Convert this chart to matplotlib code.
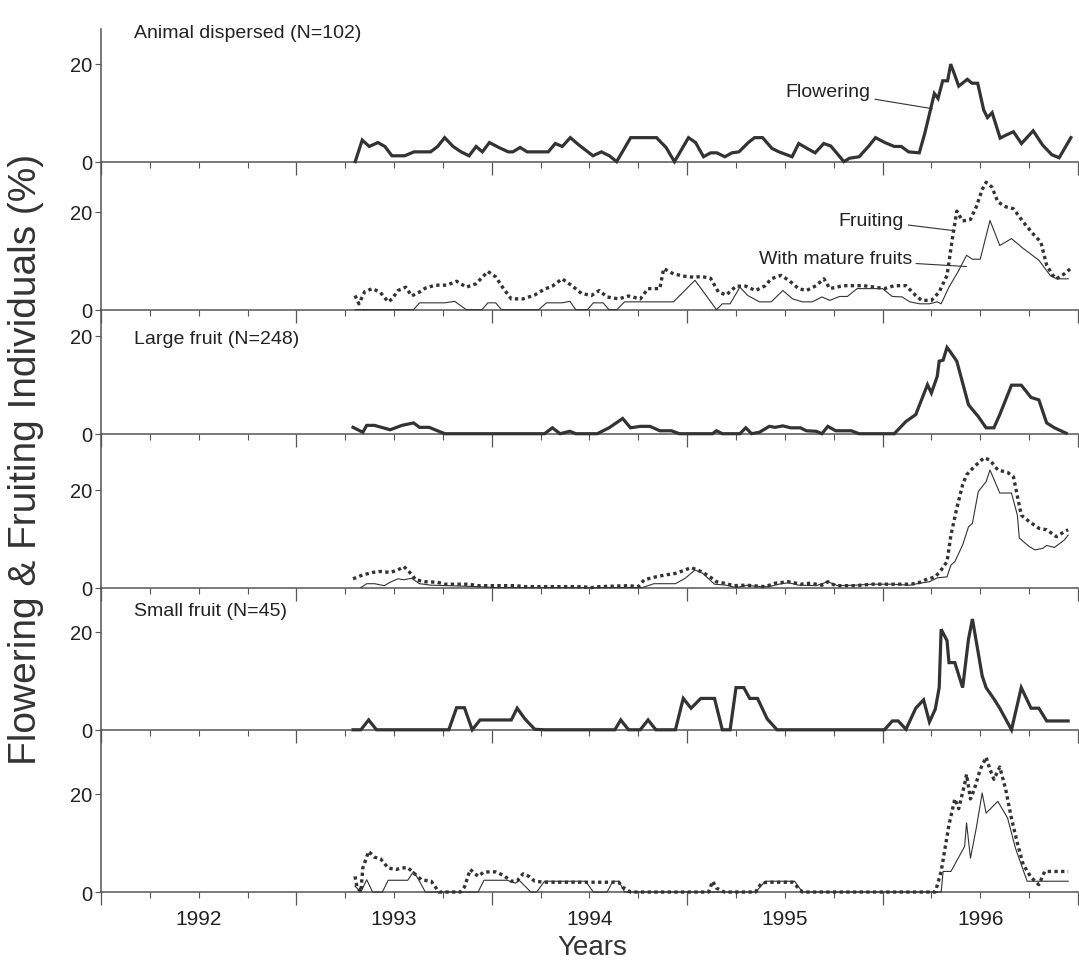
import numpy as np
import matplotlib.pyplot as plt
from matplotlib.ticker import FixedLocator, FuncFormatter

plt.rcParams['font.family'] = ['Liberation Sans', 'DejaVu Sans']

INK = '#333333'

# ---- Animal dispersed (N=102) ----
animal_flower_t = [1992.801, 1992.837, 1992.873, 1992.917, 1992.953, 1992.989, 1993.054, 1993.102,
                   1993.187, 1993.223, 1993.259, 1993.302, 1993.343, 1993.384, 1993.420, 1993.452,
                   1993.488, 1993.536, 1993.584, 1993.608, 1993.645, 1993.681, 1993.789, 1993.825,
                   1993.861, 1993.902, 1993.946, 1994.018, 1994.061, 1994.102, 1994.139, 1994.211,
                   1994.343, 1994.392, 1994.435, 1994.507, 1994.543, 1994.584, 1994.620, 1994.652,
                   1994.693, 1994.729, 1994.765, 1994.813, 1994.845, 1994.886, 1994.934, 1994.970,
                   1995.037, 1995.071, 1995.114, 1995.155, 1995.199, 1995.235, 1995.271, 1995.302,
                   1995.331, 1995.380, 1995.428, 1995.464, 1995.512, 1995.560, 1995.596, 1995.633,
                   1995.688, 1995.717, 1995.746, 1995.765, 1995.784, 1995.808, 1995.833, 1995.849,
                   1995.873, 1995.890, 1995.934, 1995.958, 1995.987, 1996.018, 1996.037, 1996.061,
                   1996.102, 1996.131, 1996.170, 1996.211, 1996.271, 1996.319, 1996.367, 1996.404,
                   1996.464]
animal_flower = [0.0, 4.4, 3.1, 3.9, 3.1, 1.2, 1.2, 2.0,
                 2.0, 3.1, 4.9, 3.1, 2.0, 1.2, 3.1, 2.0,
                 3.9, 2.9, 2.0, 2.0, 2.9, 2.0, 2.0, 3.7,
                 3.1, 4.9, 3.4, 1.2, 2.0, 1.2, 0.0, 4.9,
                 4.9, 2.9, 0.0, 4.9, 3.9, 1.0, 1.8, 1.8,
                 1.0, 1.8, 2.0, 3.9, 4.9, 4.9, 2.7, 2.0,
                 1.0, 3.7, 2.7, 1.8, 3.7, 3.2, 1.5, 0.0,
                 0.7, 1.0, 3.1, 4.9, 3.9, 3.1, 3.1, 2.0,
                 1.8, 5.9, 10.7, 13.9, 12.9, 16.5, 16.5, 19.9,
                 17.3, 15.4, 16.8, 16.0, 16.0, 10.5, 9.0, 10.0,
                 4.8, 5.4, 6.1, 3.7, 6.3, 3.4, 1.4, 0.8,
                 4.9]

animal_fruit_t = [1992.80, 1992.82, 1992.85, 1992.89, 1992.93, 1992.97, 1992.99, 1993.02, 1993.06,
                  1993.09, 1993.13, 1993.16, 1993.21, 1993.27, 1993.32, 1993.37, 1993.42, 1993.48,
                  1993.52, 1993.56, 1993.60, 1993.66, 1993.72, 1993.77, 1993.81, 1993.86, 1993.91,
                  1993.96, 1994.01, 1994.05, 1994.09, 1994.15, 1994.20, 1994.26, 1994.30, 1994.36,
                  1994.38, 1994.43, 1994.49, 1994.54, 1994.57, 1994.62, 1994.66, 1994.70, 1994.75,
                  1994.80, 1994.85, 1994.90, 1994.93, 1994.98, 1995.02, 1995.07, 1995.11, 1995.16,
                  1995.20, 1995.23, 1995.30, 1995.34, 1995.40, 1995.46, 1995.51, 1995.56, 1995.62,
                  1995.67, 1995.70, 1995.75, 1995.79, 1995.83, 1995.86, 1995.88, 1995.91, 1995.95,
                  1995.98, 1996.01, 1996.03, 1996.06, 1996.09, 1996.13, 1996.17, 1996.22, 1996.27,
                  1996.31, 1996.34, 1996.37, 1996.39, 1996.43, 1996.46]
animal_fruit = [2.9, 1.2, 3.7, 4.3, 3.5, 1.6, 2.2, 3.9, 4.6,
                2.8, 3.6, 4.4, 5.0, 5.0, 5.8, 4.6, 5.3, 7.8,
                6.7, 4.3, 2.2, 2.2, 3.0, 4.2, 4.8, 6.3, 4.9,
                3.3, 2.9, 3.9, 2.6, 2.2, 2.8, 2.2, 4.3, 4.3,
                8.4, 7.3, 6.8, 6.6, 6.8, 6.4, 3.6, 3.0, 4.8,
                4.8, 3.9, 4.9, 6.3, 7.0, 6.0, 4.3, 3.9, 4.9,
                6.3, 4.3, 4.9, 4.9, 4.9, 4.6, 4.3, 4.9, 4.9,
                2.9, 1.9, 1.9, 3.6, 7.0, 15.2, 20.1, 18.1, 18.4,
                21.0, 24.5, 26.0, 25.0, 22.0, 21.0, 20.6, 17.9, 15.5,
                13.8, 9.1, 7.1, 6.3, 7.3, 8.3]

animal_mature_t = [1992.80, 1993.10, 1993.13, 1993.26, 1993.31, 1993.37, 1993.45, 1993.48, 1993.52,
                   1993.55, 1993.74, 1993.78, 1993.86, 1993.90, 1993.93, 1993.99, 1994.02, 1994.07,
                   1994.10, 1994.14, 1994.18, 1994.43, 1994.54, 1994.61, 1994.65, 1994.68, 1994.72,
                   1994.77, 1994.81, 1994.87, 1994.93, 1994.99, 1995.04, 1995.09, 1995.14, 1995.19,
                   1995.23, 1995.28, 1995.32, 1995.37, 1995.50, 1995.55, 1995.60, 1995.64, 1995.69,
                   1995.74, 1995.78, 1995.80, 1995.84, 1995.89, 1995.93, 1995.96, 1996.00, 1996.05,
                   1996.10, 1996.16, 1996.22, 1996.30, 1996.36, 1996.39, 1996.45]
animal_mature = [0.0, 0.0, 1.4, 1.4, 1.7, 0.0, 0.0, 1.4, 1.4,
                 0.0, 0.0, 1.4, 1.4, 1.7, 0.0, 0.0, 1.4, 1.4,
                 0.0, 0.0, 1.6, 1.6, 6.0, 2.2, 0.0, 1.2, 1.2,
                 4.6, 2.9, 1.6, 1.6, 3.9, 2.2, 1.6, 1.6, 2.6,
                 1.9, 2.7, 2.7, 4.3, 4.3, 2.7, 2.6, 1.6, 1.2,
                 1.2, 1.6, 1.2, 4.6, 8.0, 11.1, 10.3, 10.3, 18.2,
                 13.1, 14.5, 12.5, 10.1, 6.9, 6.3, 6.3]

# ---- Large fruit (N=248) ----
large_flower_t = [1992.79, 1992.84, 1992.86, 1992.90, 1992.98, 1993.04, 1993.10, 1993.13, 1993.18,
                  1993.21, 1993.26, 1993.77, 1993.81, 1993.85, 1993.90, 1993.93, 1994.04, 1994.10,
                  1994.17, 1994.21, 1994.26, 1994.31, 1994.36, 1994.42, 1994.46, 1994.63, 1994.65,
                  1994.68, 1994.77, 1994.80, 1994.83, 1994.87, 1994.92, 1994.95, 1994.99, 1995.03,
                  1995.08, 1995.11, 1995.16, 1995.19, 1995.22, 1995.26, 1995.34, 1995.38, 1995.56,
                  1995.62, 1995.67, 1995.73, 1995.75, 1995.78, 1995.79, 1995.81, 1995.83, 1995.84,
                  1995.88, 1995.94, 1995.99, 1996.03, 1996.07, 1996.10, 1996.16, 1996.21, 1996.26,
                  1996.30, 1996.34, 1996.38, 1996.44]
large_flower = [1.3, 0.3, 1.7, 1.7, 0.8, 1.7, 2.2, 1.3, 1.3,
                0.8, 0.0, 0.0, 1.2, 0.0, 0.5, 0.0, 0.0, 1.2,
                3.1, 1.2, 1.5, 1.5, 0.6, 0.6, 0.0, 0.0, 0.6,
                0.0, 0.0, 1.2, 0.0, 0.3, 1.5, 1.3, 1.6, 1.2,
                1.2, 0.6, 0.5, 0.0, 1.5, 0.6, 0.6, 0.0, 0.0,
                2.5, 3.9, 10.0, 8.3, 11.7, 14.8, 15.0, 17.6, 17.1,
                14.8, 5.9, 3.5, 1.2, 1.2, 3.9, 9.9, 9.9, 7.4,
                6.9, 2.2, 1.2, 0.1]

large_fruit_t = [1992.79, 1992.84, 1992.89, 1992.93, 1992.98, 1993.02, 1993.05, 1993.09, 1993.11,
                 1993.16, 1993.22, 1993.26, 1993.38, 1993.43, 1993.62, 1993.67, 1993.96, 1994.01,
                 1994.05, 1994.20, 1994.25, 1994.28, 1994.34, 1994.39, 1994.44, 1994.49, 1994.52,
                 1994.57, 1994.61, 1994.65, 1994.69, 1994.74, 1994.80, 1994.90, 1994.95, 1995.02,
                 1995.08, 1995.13, 1995.19, 1995.22, 1995.26, 1995.36, 1995.45, 1995.64, 1995.68,
                 1995.72, 1995.77, 1995.80, 1995.83, 1995.85, 1995.88, 1995.91, 1995.93, 1995.97,
                 1996.02, 1996.05, 1996.09, 1996.14, 1996.17, 1996.21, 1996.25, 1996.30, 1996.34,
                 1996.39, 1996.43, 1996.45]
large_fruit = [1.8, 2.6, 3.1, 3.3, 3.1, 3.6, 4.3, 2.7, 1.6,
               1.2, 1.1, 0.7, 0.7, 0.4, 0.4, 0.2, 0.2, 0.0,
               0.2, 0.4, 0.2, 1.6, 2.2, 2.6, 2.9, 3.6, 4.1,
               3.3, 2.4, 1.2, 0.9, 0.4, 0.5, 0.2, 0.9, 1.2,
               0.7, 0.9, 0.5, 1.2, 0.4, 0.4, 0.7, 0.7, 0.9,
               1.6, 2.2, 3.6, 5.3, 10.7, 16.2, 21.0, 23.0, 24.7,
               26.5, 26.0, 24.0, 23.5, 22.6, 14.8, 13.5, 12.1, 11.8,
               10.4, 11.4, 11.8]

large_mature_t = [1992.83, 1992.86, 1992.90, 1992.95, 1992.98, 1993.02, 1993.05, 1993.09, 1993.13,
                  1993.19, 1993.28, 1993.43, 1993.52, 1994.27, 1994.33, 1994.44, 1994.49, 1994.54,
                  1994.58, 1994.64, 1994.70, 1994.75, 1994.81, 1994.86, 1994.92, 1994.97, 1995.02,
                  1995.07, 1995.16, 1995.22, 1995.27, 1995.36, 1995.45, 1995.55, 1995.64, 1995.69,
                  1995.74, 1995.78, 1995.83, 1995.85, 1995.87, 1995.91, 1995.94, 1995.96, 1995.99,
                  1996.03, 1996.05, 1996.10, 1996.16, 1996.19, 1996.20, 1996.25, 1996.28, 1996.32,
                  1996.34, 1996.38, 1996.43, 1996.45]
large_mature = [0.0, 0.8, 0.8, 0.4, 1.1, 1.8, 1.6, 1.9, 0.8,
                0.5, 0.4, 0.2, 0.0, 0.0, 0.8, 0.8, 1.9, 3.6,
                2.9, 0.7, 0.5, 0.0, 0.5, 0.2, 0.2, 0.7, 1.0,
                0.5, 0.4, 1.2, 0.4, 0.5, 0.7, 0.7, 0.5, 0.9,
                1.2, 2.0, 2.2, 4.6, 5.3, 8.7, 12.4, 13.1, 19.6,
                21.6, 24.0, 19.3, 19.3, 14.8, 10.1, 8.4, 7.7, 8.0,
                8.6, 8.2, 9.7, 10.7]

# ---- Small fruit (N=45) ----
small_flower_t = [1992.79, 1992.83, 1992.87, 1992.91, 1993.28, 1993.32, 1993.36, 1993.40, 1993.44,
                  1993.60, 1993.63, 1993.67, 1993.72, 1993.77, 1994.13, 1994.16, 1994.20, 1994.26,
                  1994.30, 1994.34, 1994.44, 1994.48, 1994.52, 1994.57, 1994.64, 1994.68, 1994.72,
                  1994.75, 1994.79, 1994.82, 1994.86, 1994.91, 1994.96, 1995.51, 1995.55, 1995.58,
                  1995.62, 1995.67, 1995.71, 1995.74, 1995.77, 1995.79, 1995.80, 1995.83, 1995.84,
                  1995.87, 1995.91, 1995.94, 1995.96, 1996.01, 1996.03, 1996.07, 1996.10, 1996.16,
                  1996.21, 1996.26, 1996.30, 1996.34, 1996.45]
small_flower = [0.0, 0.0, 2.0, 0.0, 0.0, 4.5, 4.5, 0.0, 2.0,
                2.0, 4.4, 2.2, 0.1, 0.0, 0.0, 2.0, 0.0, 0.0,
                2.0, 0.0, 0.0, 6.4, 4.4, 6.4, 6.4, 0.0, 0.0,
                8.6, 8.6, 6.4, 6.4, 2.2, 0.0, 0.0, 1.8, 1.8,
                0.1, 4.4, 6.1, 1.6, 4.2, 8.6, 20.5, 18.2, 13.7,
                13.7, 8.6, 18.5, 22.6, 11.0, 8.6, 6.3, 4.4, 0.0,
                8.6, 4.4, 4.4, 1.8, 1.8]

small_fruit_t = [1992.80, 1992.81, 1992.83, 1992.84, 1992.87, 1992.90, 1992.93, 1992.97, 1993.01,
                 1993.04, 1993.07, 1993.10, 1993.14, 1993.19, 1993.23, 1993.34, 1993.36, 1993.39,
                 1993.43, 1993.46, 1993.52, 1993.56, 1993.60, 1993.63, 1993.66, 1993.69, 1993.72,
                 1993.77, 1994.15, 1994.17, 1994.21, 1994.61, 1994.63, 1994.65, 1994.69, 1994.85,
                 1994.88, 1994.91, 1995.04, 1995.09, 1995.77, 1995.80, 1995.84, 1995.87, 1995.89,
                 1995.92, 1995.93, 1995.95, 1995.97, 1996.00, 1996.03, 1996.05, 1996.07, 1996.10,
                 1996.13, 1996.16, 1996.19, 1996.22, 1996.26, 1996.30, 1996.33, 1996.45]
small_fruit = [3.2, 1.0, 0.0, 4.9, 8.3, 7.1, 6.8, 4.9, 4.6,
               4.9, 5.0, 3.9, 2.5, 2.2, 0.0, 0.0, 1.0, 4.6,
               3.2, 4.1, 4.1, 3.4, 2.2, 2.3, 3.7, 3.2, 2.2,
               2.0, 2.0, 1.0, 0.0, 0.0, 2.2, 0.8, 0.0, 0.0,
               1.8, 2.0, 2.0, 0.0, 0.0, 4.2, 13.7, 19.0, 17.0,
               22.0, 24.0, 19.0, 21.0, 25.0, 27.5, 25.0, 23.0, 25.5,
               21.0, 15.0, 10.0, 5.6, 3.0, 1.5, 4.2, 4.2]

small_mature_t = [1992.80, 1992.83, 1992.86, 1992.89, 1992.94, 1992.97, 1993.07, 1993.10, 1993.13,
                  1993.16, 1993.43, 1993.46, 1993.58, 1993.62, 1993.64, 1993.67, 1993.70, 1993.73,
                  1993.77, 1993.98, 1994.02, 1994.09, 1994.12, 1994.15, 1994.18, 1994.85, 1994.90,
                  1995.05, 1995.09, 1995.80, 1995.81, 1995.85, 1995.92, 1995.93, 1995.95, 1995.98,
                  1996.01, 1996.03, 1996.09, 1996.14, 1996.18, 1996.24, 1996.45]
small_mature = [1.2, 0.0, 2.5, 0.0, 0.0, 2.4, 2.4, 4.2, 2.2,
                0.0, 0.0, 2.4, 2.4, 1.8, 2.4, 1.2, 0.0, 0.0,
                2.2, 2.2, 0.0, 0.0, 2.2, 2.2, 0.0, 0.0, 2.2,
                2.2, 0.0, 0.0, 4.2, 4.2, 9.3, 14.1, 6.9, 13.1,
                20.2, 16.1, 18.5, 15.1, 9.0, 2.2, 2.2]

# y-range of each strip (bottom is always 0)
panel_top = [27.1, 30.2, 25.3, 31.4, 29.0, 33.1]

fig = plt.figure(figsize=(10.79, 9.62), dpi=100)
gs = fig.add_gridspec(6, 1, height_ratios=panel_top, hspace=0,
                      left=0.0936, right=0.999, top=0.969, bottom=0.0717)
axes = [fig.add_subplot(gs[i]) for i in range(6)]

thick = dict(color=INK, lw=2.3, solid_joinstyle='miter', clip_on=False, zorder=3)
dots = dict(color=INK, lw=2.4, ls=(0, (1.0, 1.0)), clip_on=False, zorder=3)
thin = dict(color=INK, lw=0.8, clip_on=False, zorder=3)

axes[0].plot(animal_flower_t, animal_flower, **thick)
axes[1].plot(animal_fruit_t, animal_fruit, **dots)
axes[1].plot(animal_mature_t, animal_mature, **thin)
axes[2].plot(large_flower_t, large_flower, **thick)
axes[3].plot(large_fruit_t, large_fruit, **dots)
axes[3].plot(large_mature_t, large_mature, **thin)
axes[4].plot(small_flower_t, small_flower, **thick)
axes[5].plot(small_fruit_t, small_fruit, **dots)
axes[5].plot(small_mature_t, small_mature, **thin)

years = [1992, 1993, 1994, 1995, 1996]
half_years = np.arange(1991.5, 1997.0, 1.0)
quarters = np.arange(1991.75, 1996.5, 0.25)

for i, ax in enumerate(axes):
    # transparent strips so the baseline and ticks of the strip above stay visible
    ax.patch.set_visible(False)
    ax.set_xlim(1991.5, 1996.5)
    ax.set_ylim(0, panel_top[i])
    for s in ('top', 'right'):
        ax.spines[s].set_visible(False)
    for s in ('left', 'bottom'):
        ax.spines[s].set_color('#555555')
        ax.spines[s].set_linewidth(1.1)
    ax.set_yticks([0, 20])
    ax.tick_params(axis='y', length=4, width=0.8, color='#555555', pad=2,
                   labelsize=14.5, labelcolor='#222222')
    ax.xaxis.set_major_locator(FixedLocator(half_years))
    ax.xaxis.set_minor_locator(FixedLocator(quarters))
    ax.tick_params(axis='x', which='major', length=9, width=0.9, color='#555555',
                   labelbottom=False)
    ax.tick_params(axis='x', which='minor', length=4.5, width=0.8, color='#555555',
                   pad=8, labelsize=15, labelcolor='#222222', labelbottom=(i == 5))

axes[5].xaxis.set_minor_formatter(
    FuncFormatter(lambda v, p: f"{v:.0f}" if abs(v - round(v)) < 1e-6 else ""))

title_kw = dict(fontsize=14, color='#222222', ha='left', va='center')
axes[0].text(1991.67, 26.3, 'Animal dispersed (N=102)', **title_kw)
axes[2].text(1991.67, 19.4, 'Large fruit (N=248)', **title_kw)
axes[4].text(1991.67, 24.3, 'Small fruit (N=45)', **title_kw)

note_kw = dict(fontsize=14, color='#222222', ha='right', va='center',
               arrowprops=dict(arrowstyle='-', color=INK, lw=0.8, shrinkA=1, shrinkB=0))
axes[0].annotate('Flowering', xy=(1995.755, 10.8), xytext=(1995.44, 14.3), **note_kw)
axes[1].annotate('Fruiting', xy=(1995.87, 16.1), xytext=(1995.61, 18.2), **note_kw)
axes[1].annotate('With mature fruits', xy=(1995.93, 8.8), xytext=(1995.65, 10.4), **note_kw)

fig.text(0.024, 0.522, 'Flowering & Fruiting Individuals (%)', rotation=90,
         ha='center', va='center', fontsize=28, color='#333333')
fig.text(0.549, 0.015, 'Years', ha='center', va='center', fontsize=20, color='#333333')

fig.savefig('out.png', dpi=100)
